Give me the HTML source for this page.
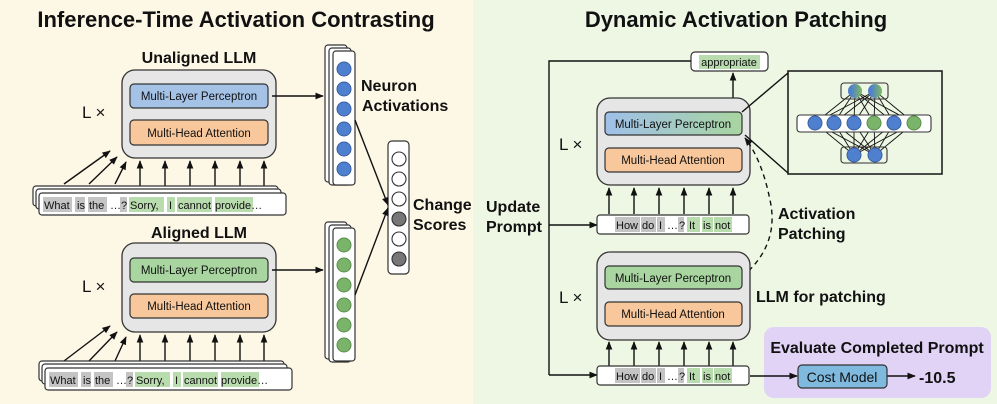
<!DOCTYPE html>
<html><head><meta charset="utf-8"><style>
html,body{margin:0;padding:0;background:#fff}
svg{display:block}
text{font-family:"Liberation Sans",sans-serif;fill:#111}
.t{font-size:22px;font-weight:bold}
.b{font-size:16px;font-weight:bold}
.s{font-size:11.5px}
.k{font-size:11px}
</style></head><body>
<svg width="997" height="404" viewBox="0 0 997 404" xmlns="http://www.w3.org/2000/svg">
<defs>
<marker id="a" viewBox="0 0 10 10" refX="9" refY="5" markerWidth="6" markerHeight="6" orient="auto-start-reverse"><path d="M0,1 L10,5 L0,9 z" fill="#111"/></marker>
<linearGradient id="g1" x1="0" x2="1"><stop offset="0" stop-color="#9fc0ea"/><stop offset="1" stop-color="#a8d5a0"/></linearGradient>
<linearGradient id="g2" x1="0" x2="1"><stop offset="0.2" stop-color="#4f7fcf"/><stop offset="0.9" stop-color="#7ab36a"/></linearGradient>
</defs>
<rect x="0" y="0" width="473" height="404" fill="#fdf7e6"/>
<rect x="473" y="0" width="524" height="404" fill="#eef6e4"/>

<!-- LEFT -->
<text class="t" x="236" y="27" text-anchor="middle">Inference-Time Activation Contrasting</text>

<text class="b" x="199" y="63" text-anchor="middle">Unaligned LLM</text>
<rect x="122" y="70" width="154" height="88" rx="13" fill="#e6e6e6" stroke="#333" stroke-width="1.3"/>
<rect x="130" y="84" width="138" height="24" rx="4" fill="#a4c2e6" stroke="#333" stroke-width="1.2"/>
<text class="s" x="199" y="100" text-anchor="middle">Multi-Layer Perceptron</text>
<rect x="130" y="120" width="138" height="25" rx="4" fill="#f8c89c" stroke="#333" stroke-width="1.2"/>
<text class="s" x="199" y="137" text-anchor="middle">Multi-Head Attention</text>
<text x="82" y="118" style="font-size:17px">L ×</text>
<g stroke="#111" stroke-width="1.4" marker-end="url(#a)">
<line x1="140" y1="186" x2="140" y2="161"/><line x1="165" y1="186" x2="165" y2="161"/><line x1="190" y1="186" x2="190" y2="161"/><line x1="215" y1="186" x2="215" y2="161"/><line x1="240" y1="186" x2="240" y2="161"/><line x1="264" y1="186" x2="264" y2="161"/>
<line x1="64" y1="184" x2="110" y2="151"/><line x1="89" y1="184" x2="117" y2="157"/><line x1="115" y1="184" x2="126" y2="162"/>
<line x1="272" y1="96" x2="323" y2="96"/>
</g>
<rect x="33" y="186" width="245" height="20" rx="3" fill="#fff" stroke="#333" stroke-width="1.2"/>
<rect x="36" y="189" width="245" height="20" rx="3" fill="#fff" stroke="#333" stroke-width="1.2"/>
<rect x="39" y="193" width="247" height="22" rx="3" fill="#fff" stroke="#333" stroke-width="1.2"/>
<g>
<rect x="43" y="197" width="29" height="15" fill="#c4c4c4"/><rect x="75" y="197" width="10" height="15" fill="#c4c4c4"/><rect x="88" y="197" width="19" height="15" fill="#c4c4c4"/><rect x="120" y="197" width="7" height="15" fill="#c4c4c4"/>
<rect x="129" y="197" width="35" height="15" fill="#b9dcae"/><rect x="167" y="197" width="8" height="15" fill="#b9dcae"/><rect x="177" y="197" width="35" height="15" fill="#b9dcae"/><rect x="215" y="197" width="38" height="15" fill="#b9dcae"/>
<g class="k"><text class="k" x="44" y="209">What</text><text class="k" x="77" y="209">is</text><text class="k" x="89" y="209">the</text><text class="k" x="110" y="209">…</text><text class="k" x="121" y="209">?</text><text class="k" x="130" y="209">Sorry,</text><text class="k" x="169" y="209">I</text><text class="k" x="178" y="209">cannot</text><text class="k" x="215" y="209">provide…</text></g>
</g>

<rect x="325" y="45" width="22" height="137" rx="3" fill="#fff" stroke="#333" stroke-width="1.2"/>
<rect x="329" y="48" width="22" height="137" rx="3" fill="#fff" stroke="#333" stroke-width="1.2"/>
<rect x="333" y="51" width="22" height="134" rx="3" fill="#fff" stroke="#333" stroke-width="1.2"/>
<g fill="#4f7fcf" stroke="#3a5f9f"><circle cx="344" cy="69" r="7"/><circle cx="344" cy="89" r="7"/><circle cx="344" cy="109" r="7"/><circle cx="344" cy="129" r="7"/><circle cx="344" cy="149" r="7"/><circle cx="344" cy="169" r="7"/></g>
<text class="b" x="361" y="91">Neuron</text><text class="b" x="362" y="111">Activations</text>

<rect x="325" y="222" width="22" height="137" rx="3" fill="#fff" stroke="#333" stroke-width="1.2"/>
<rect x="329" y="225" width="22" height="137" rx="3" fill="#fff" stroke="#333" stroke-width="1.2"/>
<rect x="333" y="228" width="22" height="133" rx="3" fill="#fff" stroke="#333" stroke-width="1.2"/>
<g fill="#7ab36a" stroke="#5a8f4a"><circle cx="344" cy="245" r="7"/><circle cx="344" cy="265" r="7"/><circle cx="344" cy="285" r="7"/><circle cx="344" cy="305" r="7"/><circle cx="344" cy="325" r="7"/><circle cx="344" cy="345" r="7"/></g>

<rect x="388" y="141" width="21" height="133" rx="4" fill="#fff" stroke="#333" stroke-width="1.2"/>
<g stroke="#333" stroke-width="1.1"><circle cx="399" cy="159" r="7" fill="#fff"/><circle cx="399" cy="179" r="7" fill="#fff"/><circle cx="399" cy="199" r="7" fill="#fff"/><circle cx="399" cy="219" r="7" fill="#777"/><circle cx="399" cy="239" r="7" fill="#fff"/><circle cx="399" cy="259" r="7" fill="#777"/></g>
<text class="b" x="413" y="210">Change</text><text class="b" x="413" y="230">Scores</text>
<g stroke="#111" stroke-width="1.4" marker-end="url(#a)"><line x1="355" y1="120" x2="388" y2="205"/><line x1="355" y1="295" x2="388" y2="208"/></g>

<text class="b" x="199" y="238" text-anchor="middle">Aligned LLM</text>
<rect x="122" y="243" width="154" height="89" rx="13" fill="#e6e6e6" stroke="#333" stroke-width="1.3"/>
<rect x="130" y="258" width="138" height="24" rx="4" fill="#a8d5a0" stroke="#333" stroke-width="1.2"/>
<text class="s" x="199" y="274" text-anchor="middle">Multi-Layer Perceptron</text>
<rect x="130" y="294" width="138" height="24" rx="4" fill="#f8c89c" stroke="#333" stroke-width="1.2"/>
<text class="s" x="199" y="310" text-anchor="middle">Multi-Head Attention</text>
<text x="82" y="292" style="font-size:17px">L ×</text>
<g stroke="#111" stroke-width="1.4" marker-end="url(#a)">
<line x1="140" y1="361" x2="140" y2="335"/><line x1="165" y1="361" x2="165" y2="335"/><line x1="190" y1="361" x2="190" y2="335"/><line x1="215" y1="361" x2="215" y2="335"/><line x1="240" y1="361" x2="240" y2="335"/><line x1="264" y1="361" x2="264" y2="335"/>
<line x1="64" y1="361" x2="110" y2="326"/><line x1="89" y1="361" x2="117" y2="332"/><line x1="115" y1="361" x2="126" y2="337"/>
<line x1="272" y1="270" x2="323" y2="270"/>
</g>
<rect x="39" y="361" width="245" height="20" rx="3" fill="#fff" stroke="#333" stroke-width="1.2"/>
<rect x="42" y="364" width="245" height="20" rx="3" fill="#fff" stroke="#333" stroke-width="1.2"/>
<rect x="45" y="368" width="247" height="22" rx="3" fill="#fff" stroke="#333" stroke-width="1.2"/>
<rect x="49" y="372" width="29" height="15" fill="#c4c4c4"/><rect x="81" y="372" width="10" height="15" fill="#c4c4c4"/><rect x="94" y="372" width="19" height="15" fill="#c4c4c4"/><rect x="126" y="372" width="7" height="15" fill="#c4c4c4"/>
<rect x="135" y="372" width="35" height="15" fill="#b9dcae"/><rect x="173" y="372" width="8" height="15" fill="#b9dcae"/><rect x="183" y="372" width="35" height="15" fill="#b9dcae"/><rect x="221" y="372" width="38" height="15" fill="#b9dcae"/>
<text class="k" x="50" y="384">What</text><text class="k" x="83" y="384">is</text><text class="k" x="95" y="384">the</text><text class="k" x="116" y="384">…</text><text class="k" x="127" y="384">?</text><text class="k" x="136" y="384">Sorry,</text><text class="k" x="175" y="384">I</text><text class="k" x="184" y="384">cannot</text><text class="k" x="221" y="384">provide…</text>

<!-- RIGHT -->
<text class="t" x="736" y="27" text-anchor="middle">Dynamic Activation Patching</text>
<rect x="691" y="52" width="77" height="19" rx="4" fill="#fff" stroke="#333" stroke-width="1.2"/>
<rect x="699" y="55" width="61" height="14" fill="#b9dcae"/>
<text class="k" x="729" y="66" text-anchor="middle">appropriate</text>
<polyline points="691,61 549,61 549,375" fill="none" stroke="#111" stroke-width="1.4"/>
<g stroke="#111" stroke-width="1.4" marker-end="url(#a)">
<line x1="549" y1="225" x2="597" y2="225"/><line x1="549" y1="375" x2="597" y2="375"/>
<line x1="733" y1="98" x2="733" y2="73"/>
<line x1="609" y1="214" x2="609" y2="188"/><line x1="634" y1="214" x2="634" y2="188"/><line x1="659" y1="214" x2="659" y2="188"/><line x1="684" y1="214" x2="684" y2="188"/><line x1="709" y1="214" x2="709" y2="188"/><line x1="733" y1="214" x2="733" y2="188"/>
<line x1="609" y1="366" x2="609" y2="342"/><line x1="634" y1="366" x2="634" y2="342"/><line x1="659" y1="366" x2="659" y2="342"/><line x1="684" y1="366" x2="684" y2="342"/><line x1="709" y1="366" x2="709" y2="342"/><line x1="733" y1="366" x2="733" y2="342"/>
</g>
<text class="b" x="486" y="212">Update</text><text class="b" x="486" y="232">Prompt</text>

<rect x="597" y="98" width="153" height="87" rx="13" fill="#e6e6e6" stroke="#333" stroke-width="1.3"/>
<rect x="605" y="112" width="137" height="23" rx="4" fill="url(#g1)" stroke="#333" stroke-width="1.2"/>
<text class="s" x="673" y="128" text-anchor="middle">Multi-Layer Perceptron</text>
<rect x="605" y="148" width="137" height="24" rx="4" fill="#f8c89c" stroke="#333" stroke-width="1.2"/>
<text class="s" x="673" y="164" text-anchor="middle">Multi-Head Attention</text>
<text x="559" y="150" style="font-size:17px">L ×</text>

<rect x="597" y="215" width="152" height="19" rx="3" fill="#fff" stroke="#333" stroke-width="1.2"/>
<rect x="615" y="217" width="25" height="15" fill="#c4c4c4"/><rect x="641" y="217" width="15" height="15" fill="#c4c4c4"/><rect x="657" y="217" width="8" height="15" fill="#c4c4c4"/><rect x="678" y="217" width="6" height="15" fill="#c4c4c4"/>
<rect x="687" y="217" width="13" height="15" fill="#b9dcae"/><rect x="702" y="217" width="11" height="15" fill="#b9dcae"/><rect x="714" y="217" width="18" height="15" fill="#b9dcae"/>
<text class="k" x="616" y="229">How</text><text class="k" x="642" y="229">do</text><text class="k" x="659" y="229">I</text><text class="k" x="667" y="229">…</text><text class="k" x="679" y="229">?</text><text class="k" x="689" y="229">It</text><text class="k" x="703" y="229">is</text><text class="k" x="715" y="229">not</text>

<rect x="788" y="71" width="154" height="103" fill="none" stroke="#222" stroke-width="1.6"/>
<line x1="742" y1="112" x2="788" y2="73" stroke="#111" stroke-width="1.4"/>
<line x1="745" y1="135" x2="788" y2="173" stroke="#111" stroke-width="1.4"/>
<g stroke="#111" stroke-width="0.9">
<line x1="855" y1="91" x2="815" y2="123"/><line x1="855" y1="91" x2="834" y2="123"/><line x1="855" y1="91" x2="854" y2="123"/><line x1="855" y1="91" x2="874" y2="123"/><line x1="855" y1="91" x2="894" y2="123"/><line x1="855" y1="91" x2="914" y2="123"/>
<line x1="875" y1="91" x2="815" y2="123"/><line x1="875" y1="91" x2="834" y2="123"/><line x1="875" y1="91" x2="854" y2="123"/><line x1="875" y1="91" x2="874" y2="123"/><line x1="875" y1="91" x2="894" y2="123"/><line x1="875" y1="91" x2="914" y2="123"/>
<line x1="854" y1="155" x2="815" y2="123"/><line x1="854" y1="155" x2="834" y2="123"/><line x1="854" y1="155" x2="854" y2="123"/><line x1="854" y1="155" x2="874" y2="123"/><line x1="854" y1="155" x2="894" y2="123"/><line x1="854" y1="155" x2="914" y2="123"/>
<line x1="875" y1="155" x2="815" y2="123"/><line x1="875" y1="155" x2="834" y2="123"/><line x1="875" y1="155" x2="854" y2="123"/><line x1="875" y1="155" x2="874" y2="123"/><line x1="875" y1="155" x2="894" y2="123"/><line x1="875" y1="155" x2="914" y2="123"/>
</g>
<rect x="841" y="83" width="47" height="16" rx="3" fill="#fff" stroke="#333" stroke-width="1.1" fill-opacity="0"/>
<rect x="797" y="115" width="134" height="17" rx="3" fill="#fff" stroke="#333" stroke-width="1.1"/>
<rect x="841" y="147" width="46" height="16" rx="3" fill="#fff" fill-opacity="0" stroke="#333" stroke-width="1.1"/>
<circle cx="855" cy="91" r="7" fill="url(#g2)"/><circle cx="875" cy="91" r="7" fill="url(#g2)"/>
<g stroke="#3a5f9f"><circle cx="815" cy="123" r="7" fill="#4f7fcf"/><circle cx="834" cy="123" r="7" fill="#4f7fcf"/><circle cx="854" cy="123" r="7" fill="#4f7fcf"/><circle cx="874" cy="123" r="7" fill="#7ab36a" stroke="#5a8f4a"/><circle cx="894" cy="123" r="7" fill="#4f7fcf"/><circle cx="914" cy="123" r="7" fill="#7ab36a" stroke="#5a8f4a"/><circle cx="854" cy="155" r="7" fill="#4f7fcf"/><circle cx="875" cy="155" r="7" fill="#4f7fcf"/></g>

<path d="M742,277 Q780,245 770,200 Q762,160 745,138" fill="none" stroke="#111" stroke-width="1.4" stroke-dasharray="5,4" marker-end="url(#a)"/>
<text class="b" x="778" y="219">Activation</text><text class="b" x="778" y="239">Patching</text>

<rect x="597" y="252" width="153" height="88" rx="13" fill="#e6e6e6" stroke="#333" stroke-width="1.3"/>
<rect x="605" y="266" width="137" height="23" rx="4" fill="#a8d5a0" stroke="#333" stroke-width="1.2"/>
<text class="s" x="673" y="282" text-anchor="middle">Multi-Layer Perceptron</text>
<rect x="605" y="302" width="137" height="24" rx="4" fill="#f8c89c" stroke="#333" stroke-width="1.2"/>
<text class="s" x="673" y="318" text-anchor="middle">Multi-Head Attention</text>
<text x="559" y="303" style="font-size:17px">L ×</text>
<text class="b" x="756" y="302">LLM for patching</text>

<rect x="597" y="366" width="152" height="19" rx="3" fill="#fff" stroke="#333" stroke-width="1.2"/>
<rect x="615" y="368" width="25" height="15" fill="#c4c4c4"/><rect x="641" y="368" width="15" height="15" fill="#c4c4c4"/><rect x="657" y="368" width="8" height="15" fill="#c4c4c4"/><rect x="678" y="368" width="6" height="15" fill="#c4c4c4"/>
<rect x="687" y="368" width="13" height="15" fill="#b9dcae"/><rect x="702" y="368" width="11" height="15" fill="#b9dcae"/><rect x="714" y="368" width="18" height="15" fill="#b9dcae"/>
<text class="k" x="616" y="380">How</text><text class="k" x="642" y="380">do</text><text class="k" x="659" y="380">I</text><text class="k" x="667" y="380">…</text><text class="k" x="679" y="380">?</text><text class="k" x="689" y="380">It</text><text class="k" x="703" y="380">is</text><text class="k" x="715" y="380">not</text>

<rect x="764" y="327" width="227" height="71" rx="10" fill="#e0d3f5"/>
<text class="b" x="877" y="353" text-anchor="middle">Evaluate Completed Prompt</text>
<g stroke="#111" stroke-width="1.4" marker-end="url(#a)"><line x1="750" y1="376" x2="797" y2="376"/><line x1="887" y1="376" x2="915" y2="376"/></g>
<rect x="798" y="365" width="89" height="23" rx="4" fill="#7fb9de" stroke="#333" stroke-width="1.2"/>
<text x="842" y="382" text-anchor="middle" style="font-size:14px">Cost Model</text>
<text x="919" y="383" style="font-size:16px;font-weight:bold">-10.5</text>
</svg>
</body></html>
